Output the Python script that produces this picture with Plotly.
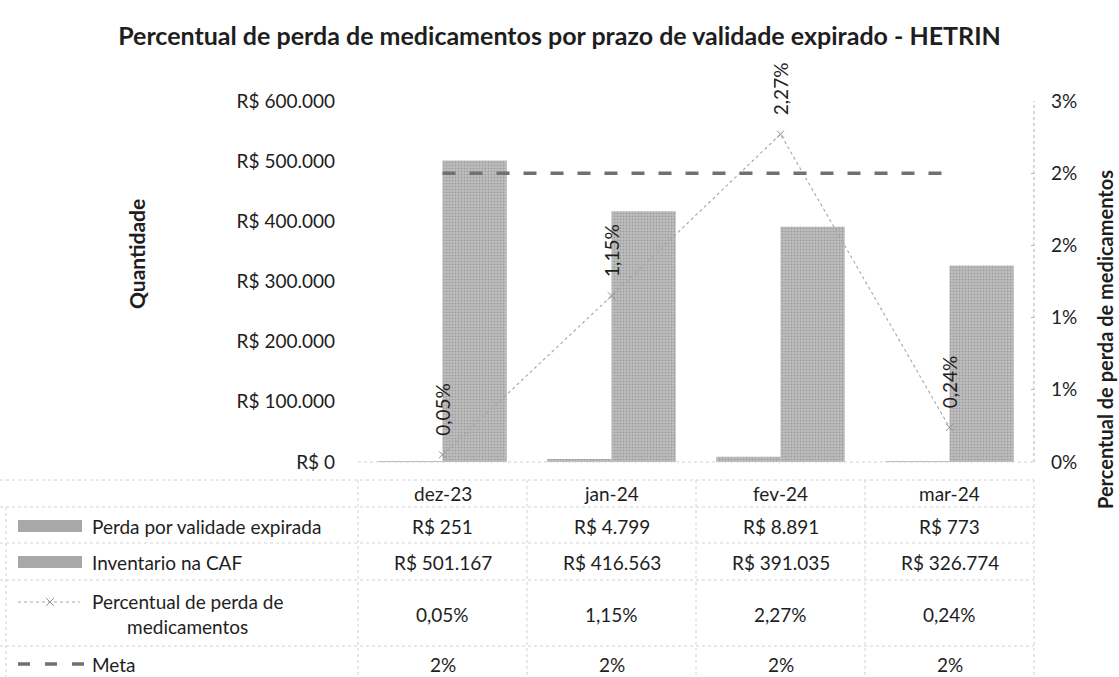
import math
import plotly.graph_objects as go

# ---------------- data ----------------
categories = ["dez-23", "jan-24", "fev-24", "mar-24"]
perda = [251, 4799, 8891, 773]
inventario = [501167, 416563, 391035, 326774]
percentual = [0.05, 1.15, 2.27, 0.24]
meta = [2, 2, 2, 2]
left_ticks = [0, 100000, 200000, 300000, 400000, 500000, 600000]
right_ticks = [0, 0.5, 1.0, 1.5, 2.0, 2.5]

title_text = "Percentual de perda de medicamentos por prazo de validade expirado - HETRIN"
series_names = ["Perda por validade expirada", "Inventario na CAF",
                "Percentual de perda de<br>medicamentos", "Meta"]

# ---------------- styles ----------------
W, H = 1119, 677
L, R, T, B = 358, 1034, 101, 462
FONT = "Lato"
TXT = "#1e1e1e"
BAR = "#a8a8a8"
LINE_PCT = "#a6a6a6"
LINE_META = "#707070"
GRID = "#d2d2d2"
FS = 19


def px(x):
    return (x - L) / (R - L)


def py(y):
    return (B - y) / (B - T)


def brl(v):
    return "R$ " + f"{v:,}".replace(",", ".")


def pct(v):
    return f"{v:.2f}%".replace(".", ",")


def pct_round(v):
    return f"{int(math.floor(v + 0.5))}%"


bar_pattern = dict(shape=".", fgcolor="#7d7d7d", bgcolor="#bebebe", size=3, solidity=0.35)

fig = go.Figure()
fig.add_trace(go.Bar(x=categories, y=perda, name="Perda por validade expirada",
                     marker=dict(color=BAR, pattern=bar_pattern, line=dict(width=0))))
fig.add_trace(go.Bar(x=categories, y=inventario, name="Inventario na CAF",
                     marker=dict(color=BAR, pattern=bar_pattern, line=dict(width=0))))
fig.add_trace(go.Scatter(x=categories, y=percentual, yaxis="y2", mode="lines+markers",
                         name="Percentual de perda de medicamentos",
                         line=dict(color=LINE_PCT, width=1.1, dash="dot"),
                         marker=dict(symbol="x-thin", size=7,
                                     line=dict(color="#8f8f8f", width=1))))
fig.add_trace(go.Scatter(x=categories, y=meta, yaxis="y2", mode="lines", name="Meta",
                         line=dict(color=LINE_META, width=3.5, dash="13px,14px")))

annotations = []
# data labels on percent line (rotated)
for c, v in zip(categories, percentual):
    annotations.append(dict(x=c, y=v, xref="x", yref="y2", text=pct(v), textangle=-90,
                            showarrow=False, xanchor="center", yanchor="bottom", yshift=17,
                            font=dict(family=FONT, size=FS, color=TXT)))

# data table: header + values
row_y = {"head": 493, "perda": 526, "inv": 562, "pct": 614, "meta": 664}
for i, c in enumerate(categories):
    cells = [(c, row_y["head"]), (brl(perda[i]), row_y["perda"]),
             (brl(inventario[i]), row_y["inv"]), (pct(percentual[i]), row_y["pct"]),
             (f"{meta[i]}%", row_y["meta"])]
    for t, yy in cells:
        annotations.append(dict(x=c, y=py(yy), xref="x", yref="paper", text=t,
                                showarrow=False, xanchor="center", yanchor="middle",
                                font=dict(family=FONT, size=FS, color=TXT)))

# legend column texts
annotations += [
    dict(x=px(90), y=py(row_y["perda"]), text=series_names[0], xanchor="left"),
    dict(x=px(90), y=py(row_y["inv"]), text=series_names[1], xanchor="left"),
    dict(x=px(187), y=py(row_y["pct"]), text=series_names[2], xanchor="center", align="center"),
    dict(x=px(90), y=py(row_y["meta"]), text=series_names[3], xanchor="left"),
]
for a in annotations[-4:]:
    a.update(xref="paper", yref="paper", showarrow=False, yanchor="middle",
             font=dict(family=FONT, size=FS, color=TXT))

# axis titles
annotations.append(dict(x=px(137), y=py(254), xref="paper", yref="paper", text="<b>Quantidade</b>",
                        textangle=-90, showarrow=False, xanchor="center", yanchor="middle",
                        font=dict(family=FONT, size=21, color=TXT)))
annotations.append(dict(x=px(1119), y=py(340), xref="paper", yref="paper",
                        text="<b>Percentual de perda de medicamentos</b>",
                        textangle=-90, showarrow=False, xanchor="right", yanchor="middle",
                        font=dict(family=FONT, size=20, color=TXT)))

shapes = []
gl = dict(color=GRID, width=1, dash="dot")
# horizontal table lines
for yy in [480, 507, 543, 580, 646]:
    shapes.append(dict(type="line", xref="paper", yref="paper", x0=px(0), x1=px(R),
                       y0=py(yy), y1=py(yy), line=gl))
# vertical table lines at category boundaries
for i in range(len(categories) + 1):
    shapes.append(dict(type="line", xref="paper", yref="paper", x0=i / len(categories),
                       x1=i / len(categories), y0=py(480), y1=py(677), line=gl))
shapes.append(dict(type="line", xref="paper", yref="paper", x0=px(6), x1=px(6),
                   y0=py(507), y1=py(677), line=gl))
# x baseline and right axis line
shapes.append(dict(type="line", xref="paper", yref="paper", x0=0, x1=1, y0=0, y1=0, line=gl))
shapes.append(dict(type="line", xref="paper", yref="paper", x0=1, x1=1, y0=0, y1=1,
                   line=dict(color="#b0b0b0", width=1, dash="dot")))

# legend symbols in table
for yy in [row_y["perda"], row_y["inv"]]:
    shapes.append(dict(type="rect", xref="paper", yref="paper", x0=px(18), x1=px(82),
                       y0=py(yy + 6), y1=py(yy - 6), fillcolor=BAR, line=dict(width=0)))
sy = 602
shapes.append(dict(type="line", xref="paper", yref="paper", x0=px(18), x1=px(80),
                   y0=py(sy), y1=py(sy), line=dict(color=LINE_PCT, width=1.1, dash="dot")))
shapes.append(dict(type="line", xref="paper", yref="paper", x0=px(46), x1=px(54),
                   y0=py(sy - 4), y1=py(sy + 4), line=dict(color="#8f8f8f", width=1)))
shapes.append(dict(type="line", xref="paper", yref="paper", x0=px(46), x1=px(54),
                   y0=py(sy + 4), y1=py(sy - 4), line=dict(color="#8f8f8f", width=1)))
for x0 in [18, 45, 72]:
    shapes.append(dict(type="line", xref="paper", yref="paper", x0=px(x0), x1=px(x0 + 12),
                       y0=py(row_y["meta"]), y1=py(row_y["meta"]),
                       line=dict(color=LINE_META, width=3.5)))

fig.update_layout(
    width=W, height=H,
    margin=dict(l=L, r=W - R, t=T, b=H - B, pad=0),
    paper_bgcolor="white", plot_bgcolor="white",
    separators=",.",
    barmode="group", bargap=0.24, bargroupgap=0,
    showlegend=False,
    font=dict(family=FONT, size=FS, color=TXT),
    title=dict(text=f"<b>{title_text}</b>", x=0.5, xanchor="center", xref="container",
               y=1 - 36 / H, yanchor="middle", yref="container",
               font=dict(family=FONT, size=25, color=TXT)),
    xaxis=dict(showticklabels=False, showline=False, showgrid=False, zeroline=False,
               ticks="", fixedrange=True),
    yaxis=dict(range=[0, 600000], tickvals=left_ticks, ticktext=[brl(v) for v in left_ticks],
               showgrid=False, zeroline=False, showline=False, ticks="",
               ticklabelstandoff=22, tickfont=dict(family=FONT, size=FS, color=TXT)),
    yaxis2=dict(range=[0, 2.5], overlaying="y", side="right", tickvals=right_ticks,
                ticktext=[pct_round(v) for v in right_ticks],
                showgrid=False, zeroline=False, showline=False,
                ticks="inside", ticklen=3, tickcolor="#b8b8b8",
                ticklabelstandoff=16, tickfont=dict(family=FONT, size=FS, color=TXT)),
    annotations=annotations,
    shapes=shapes,
)

fig.write_html("out.html", config={"displayModeBar": False},
               post_script="document.body.style.margin='0';")
